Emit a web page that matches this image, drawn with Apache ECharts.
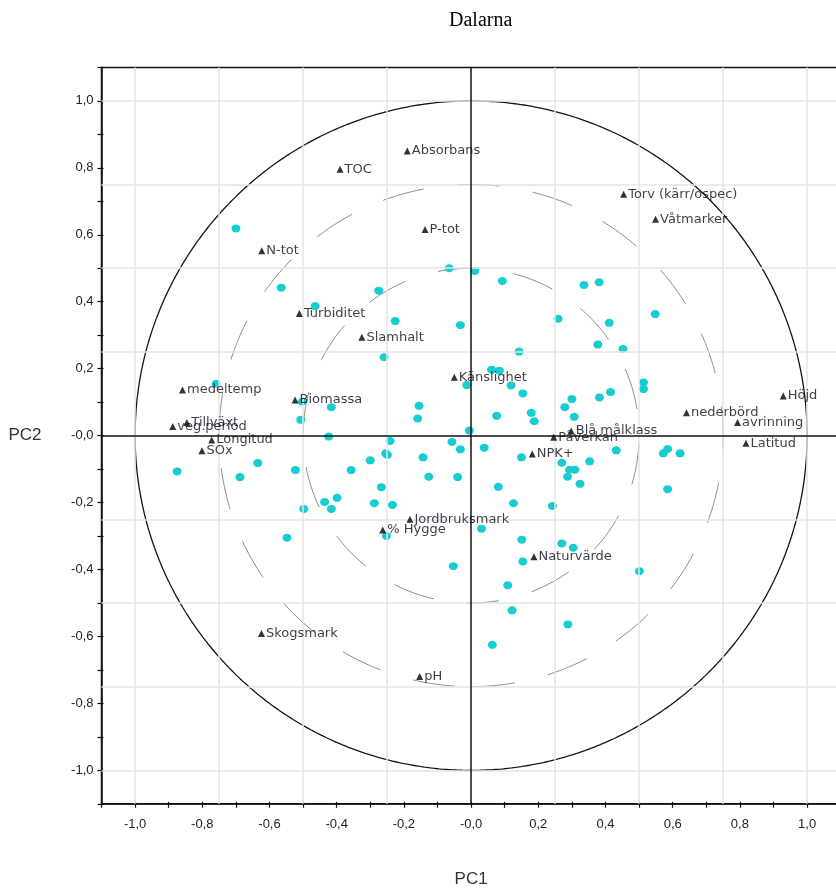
<!DOCTYPE html>
<html>
<head>
<meta charset="utf-8">
<style>
  html, body { margin: 0; padding: 0; background: #fff; }
  #chart { width: 836px; height: 888px; }
</style>
<script src="https://cdn.jsdelivr.net/npm/echarts@6/dist/echarts.min.js"></script>
</head>
<body>
<div id="chart"></div>
<script>
// PCA correlation loadings (variables) for Dalarna
const loadingNames = [
  'Absorbans', 'TOC', 'Torv (kärr/ospec)', 'Våtmarker', 'P-tot', 'N-tot',
  'Turbiditet', 'Slamhalt', 'Känslighet', 'medeltemp', 'Biomassa', 'Höjd',
  'nederbörd', 'avrinning', 'Tillväxt', 'veg.period', 'Blå målklass', 'Longitud',
  'Påverkan', 'Latitud', 'SOx', 'NPK+', 'Jordbruksmark', '% Hygge',
  'Naturvärde', 'Skogsmark', 'pH'
];
const loadingPC1 = [
  -0.190, -0.390, 0.454, 0.549, -0.137, -0.623,
  -0.511, -0.325, -0.050, -0.859, -0.524, 0.929,
  0.641, 0.793, -0.846, -0.888, 0.298, -0.772,
  0.246, 0.818, -0.801, 0.182, -0.182, -0.263,
  0.187, -0.624, -0.153
];
const loadingPC2 = [
  0.850, 0.796, 0.721, 0.646, 0.616, 0.552,
  0.365, 0.294, 0.174, 0.136, 0.106, 0.118,
  0.068, 0.039, 0.039, 0.027, 0.014, -0.013,
  -0.005, -0.023, -0.045, -0.055, -0.250, -0.282,
  -0.362, -0.591, -0.720
];

// Object scores (lakes), scaled to the loading space
const scorePC1 = [
  -0.700, -0.565, -0.275, -0.065, 0.011, 0.093, 0.336, 0.381, 0.548, 0.411,
  0.259, -0.226, -0.032, 0.377, 0.452, 0.143, -0.259, 0.061, 0.084, -0.013,
  0.119, 0.513, 0.513, 0.154, 0.415, 0.382, 0.300, 0.279, -0.155, -0.159,
  0.076, 0.179, 0.307, 0.188, -0.005, -0.241, -0.254, -0.249, -0.057, -0.032,
  0.039, 0.150, 0.432, 0.585, 0.572, 0.622, -0.143, 0.353, 0.270, 0.293,
  0.309, 0.287, 0.324, -0.126, -0.040, 0.081, 0.585, -0.464, -0.759, -0.503,
  -0.416, -0.507, -0.424, -0.300, -0.635, -0.875, -0.523, -0.688, -0.357, -0.267,
  -0.436, -0.399, -0.416, -0.498, -0.288, -0.234, -0.548, -0.252, 0.126, 0.242,
  0.031, 0.151, 0.270, 0.304, 0.154, -0.053, 0.501, 0.109, 0.122, 0.288,
  0.063
];
const scorePC2 = [
  0.619, 0.442, 0.433, 0.500, 0.492, 0.462, 0.450, 0.458, 0.363, 0.337,
  0.349, 0.342, 0.330, 0.272, 0.259, 0.251, 0.234, 0.197, 0.194, 0.151,
  0.150, 0.159, 0.139, 0.126, 0.130, 0.114, 0.109, 0.085, 0.089, 0.051,
  0.059, 0.068, 0.056, 0.043, 0.015, -0.016, -0.053, -0.058, -0.019, -0.041,
  -0.036, -0.065, -0.044, -0.040, -0.053, -0.053, -0.065, -0.077, -0.081, -0.102,
  -0.102, -0.123, -0.144, -0.123, -0.124, -0.153, -0.160, 0.387, 0.155, 0.101,
  0.085, 0.047, -0.003, -0.074, -0.082, -0.107, -0.103, -0.124, -0.103, -0.154,
  -0.198, -0.186, -0.219, -0.219, -0.202, -0.207, -0.305, -0.300, -0.202, -0.210,
  -0.278, -0.311, -0.322, -0.335, -0.376, -0.390, -0.405, -0.447, -0.522, -0.564,
  -0.625
];

// Reference grid positions and correlation circles
const gridValues = [-1, -0.75, -0.5, -0.25, 0.25, 0.5, 0.75, 1];
const circleRadii = [1, 0.75, 0.5];

function circlePath(r) {
  const pts = [];
  const n = 720;
  for (let i = 0; i <= n; i++) {
    const a = -Math.PI / 2 + (2 * Math.PI * i) / n;
    pts.push([r * Math.cos(a), r * Math.sin(a)]);
  }
  return pts;
}

function tickText(v) {
  const k = Math.round(v * 10);
  if (k % 2 !== 0 || Math.abs(k) > 10) return '';
  return (k <= 0 ? '-' : '') + (Math.abs(k) / 10).toFixed(1).replace('.', ',');
}

const chart = echarts.init(document.getElementById('chart'), null, { renderer: 'canvas' });

const tickFont = { fontFamily: 'Liberation Sans Narrow, Liberation Sans, Arial', fontSize: 13, color: '#222' };

const axisCommon = {
  type: 'value',
  min: -1.1,
  max: 1.1,
  interval: 0.1,
  axisLine: { show: true, onZero: false, lineStyle: { color: '#111', width: 1.5 } },
  axisTick: { show: true, length: 4, lineStyle: { color: '#111', width: 1.2 } },
  splitLine: { show: false }
};

// Second pair of axes only carries the inner half of the crossing tick marks
const innerAxis = {
  type: 'value',
  min: -1.1,
  max: 1.1,
  interval: 0.1,
  axisLine: { show: false, onZero: false },
  axisTick: { show: true, inside: true, length: 2, lineStyle: { color: '#111', width: 1.2 } },
  axisLabel: { show: false },
  splitLine: { show: false }
};

const circleSeries = circleRadii.map(function (r) {
  const solid = r === 1;
  return {
    type: 'line',
    data: circlePath(r),
    showSymbol: false,
    symbol: 'none',
    silent: true,
    z: 2,
    lineStyle: solid
      ? { color: '#151515', width: 1.3 }
      : { color: '#8c8c8c', width: 1, type: [42, 34], dashOffset: r === 0.75 ? 74 : 14 }
  };
});

const option = {
  backgroundColor: '#fff',
  animation: false,
  title: {
    text: 'Dalarna',
    left: 444,
    top: 6,
    textStyle: { fontFamily: 'Liberation Serif, Times New Roman, serif', fontSize: 20, fontWeight: 'normal', color: '#000' }
  },
  grid: {
    left: 101.5,
    top: 67.4,
    width: 739.2,
    height: 736.4,
    outerBoundsMode: 'none',
    containLabel: false,
    show: true,
    borderColor: '#111',
    borderWidth: 1.5,
    backgroundColor: '#fff'
  },
  xAxis: [
    Object.assign({}, axisCommon, {
      position: 'bottom',
      name: 'PC1',
      nameLocation: 'middle',
      nameGap: 67,
      nameTextStyle: { fontFamily: 'Liberation Sans, Arial', fontSize: 17, color: '#333' },
      axisLabel: Object.assign({ margin: 14, formatter: tickText, showMinLabel: true, showMaxLabel: true }, tickFont)
    }),
    Object.assign({}, innerAxis, { position: 'bottom', offset: 0 })
  ],
  yAxis: [
    Object.assign({}, axisCommon, {
      position: 'left',
      name: 'PC2',
      nameLocation: 'middle',
      nameRotate: 0,
      nameGap: 60,
      nameTextStyle: { fontFamily: 'Liberation Sans, Arial', fontSize: 17, color: '#333' },
      axisLabel: Object.assign({ margin: 8, formatter: tickText }, tickFont)
    }),
    Object.assign({}, innerAxis, { position: 'left', offset: 0 })
  ],
  series: [
    {
      // light reference grid every 0.25
      type: 'scatter',
      data: [],
      silent: true,
      z: 1,
      markLine: {
        silent: true,
        symbol: ['none', 'none'],
        label: { show: false },
        animation: false,
        data: gridValues.map(function (v) {
          return { xAxis: v, lineStyle: { color: '#e4e4e4', width: 1.5, type: 'solid' } };
        }).concat(gridValues.map(function (v) {
          return { yAxis: v, lineStyle: { color: '#e4e4e4', width: 1.5, type: 'solid' } };
        }))
      }
    }
  ].concat(circleSeries).concat([
    {
      // zero axes through the origin
      type: 'scatter',
      data: [],
      silent: true,
      z: 3,
      markLine: {
        silent: true,
        symbol: ['none', 'none'],
        label: { show: false },
        animation: false,
        data: [
          { xAxis: 0, lineStyle: { color: '#111', width: 1.5, type: 'solid' } },
          { yAxis: 0, lineStyle: { color: '#111', width: 1.5, type: 'solid' } }
        ]
      }
    },
    {
      name: 'scores',
      type: 'scatter',
      z: 4,
      symbol: 'circle',
      symbolSize: [9, 8],
      itemStyle: { color: '#16cdd0', opacity: 1 },
      data: scorePC1.map(function (x, i) { return [x, scorePC2[i]]; })
    },
    {
      name: 'loadings',
      type: 'scatter',
      z: 5,
      symbol: 'triangle',
      symbolSize: [7, 7],
      itemStyle: { color: '#000' },
      label: {
        show: true,
        position: 'right',
        distance: 1,
        fontFamily: 'DejaVu Sans, Verdana, sans-serif',
        fontSize: 13,
        color: '#0c0c1c',
        formatter: function (p) { return p.data.name; }
      },
      labelLayout: { hideOverlap: false },
      data: loadingNames.map(function (n, i) { return { name: n, value: [loadingPC1[i], loadingPC2[i]] }; })
    }
  ])
};

chart.setOption(option);
</script>
</body>
</html>
